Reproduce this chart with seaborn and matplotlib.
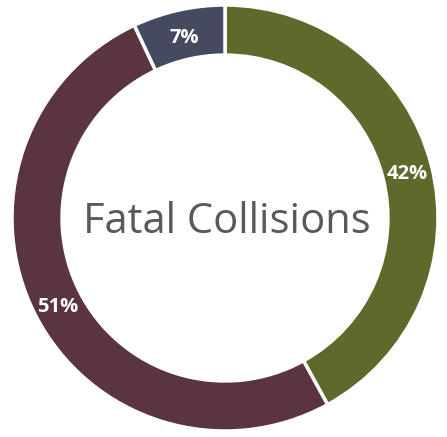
import matplotlib
matplotlib.use("Agg")
import matplotlib.pyplot as plt
import seaborn as sns
import numpy as np

categories = ["Category A", "Category B", "Category C"]
values = [42, 51, 7]
labels = ["42%", "51%", "7%"]
colors = ["#5E6A2B", "#5A3441", "#464A60"]

sns.set_theme(style="white")
plt.rcParams['font.family'] = ['Open Sans', 'DejaVu Sans']

W, H = 447, 437
fig = plt.figure(figsize=(W / 100, H / 100), dpi=100)
cx, cy, R = 225, 218, 213
ax = fig.add_axes([(cx - R) / W, (H - cy - R) / H, 2 * R / W, 2 * R / H])

width = 0.235
wedges, _ = ax.pie(values, colors=colors, startangle=90, counterclock=False,
                   radius=1, wedgeprops=dict(width=width, edgecolor="white", linewidth=2.5))

start = 90.0
total = sum(values)
rl = 1 - width / 2
for v, lab in zip(values, labels):
    ang = start - 360 * v / total / 2
    start -= 360 * v / total
    ax.text(rl * np.cos(np.radians(ang)), rl * np.sin(np.radians(ang)) - 0.015, lab,
            ha="center", va="center", color="white", fontsize=14.5, fontweight="bold")

ax.text(0.01, -0.02, "Fatal Collisions", ha="center", va="center", color="#595959", fontsize=30)
ax.set_xlim(-1, 1)
ax.set_ylim(-1, 1)
ax.set_aspect("equal")
ax.axis("off")
fig.savefig("out.png", dpi=100, facecolor="white")
